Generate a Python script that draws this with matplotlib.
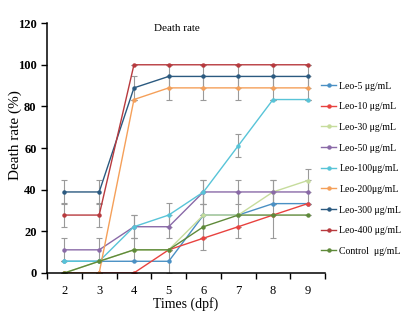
import matplotlib.pyplot as plt
import numpy as np

plt.rcParams['font.family'] = ['Liberation Serif', 'DejaVu Serif']

# days post fertilisation
days = [2, 3, 4, 5, 6, 7, 8, 9]

labels = ['Leo-5 μg/mL', 'Leo-10 μg/mL', 'Leo-30 μg/mL', 'Leo-50 μg/mL',
          'Leo-100μg/mL', 'Leo-200μg/mL', 'Leo-300 μg/mL', 'Leo-400 μg/mL',
          'Control  μg/mL']

leo5 = [5.6, 5.6, 5.6, 5.6, 27.8, 27.8, 33.3, 33.3]
leo10 = [0, 0, 0, 11.1, 16.7, 22.2, 27.8, 33.3]
leo30 = [0, 5.6, 11.1, 11.1, 27.8, 27.8, 38.9, 44.4]
leo50 = [11.1, 11.1, 22.2, 22.2, 38.9, 38.9, 38.9, 38.9]
leo100 = [5.6, 5.6, 22.2, 27.8, 38.9, 61.1, 83.3, 83.3]
leo200 = [0, 0, 83.3, 88.9, 88.9, 88.9, 88.9, 88.9]
leo300 = [38.9, 38.9, 88.9, 94.4, 94.4, 94.4, 94.4, 94.4]
leo400 = [27.8, 27.8, 100, 100, 100, 100, 100, 100]
control = [0, 5.6, 11.1, 11.1, 22.2, 27.8, 27.8, 27.8]

# error bars (sd)
err5 = [0, 0, 0, 5.6, 11.1, 0, 0, 0]
err10 = [0, 0, 0, 0, 0, 0, 0, 0]
err30 = [0, 0, 0, 0, 0, 0, 5.6, 5.6]
err50 = [5.6, 5.6, 5.6, 5.6, 5.6, 5.6, 5.6, 5.6]
err100 = [0, 0, 5.6, 5.6, 5.6, 5.6, 0, 0]
err200 = [0, 0, 0, 5.6, 5.6, 5.6, 5.6, 5.6]
err300 = [5.6, 5.6, 5.6, 5.6, 5.6, 5.6, 5.6, 5.6]
err400 = [5.6, 5.6, 0, 0, 0, 0, 0, 0]
errctl = [0, 0, 5.6, 0, 11.1, 11.1, 11.1, 0]

series = [leo5, leo10, leo30, leo50, leo100, leo200, leo300, leo400, control]
errors = [err5, err10, err30, err50, err100, err200, err300, err400, errctl]
colors = ['#4a90c4', '#e8423f', '#c6dc9c', '#8a6aa8', '#58c4d8',
          '#f5a05a', '#2b5a80', '#b83a3e', '#5f8a3a']

fig = plt.figure(figsize=(4.09, 3.17), dpi=100)
ax = fig.add_axes([0.115, 0.139, 0.68, 0.788])

# gray error bars first
for y, e in zip(series, errors):
    ax.errorbar(days, y, yerr=e, fmt='none', ecolor='#9a9a9a',
                elinewidth=0.8, capsize=2, capthick=0.8, zorder=1)

for y, lab, c in zip(series, labels, colors):
    ax.plot(days, y, color=c, lw=1.0, marker='o', markersize=2.2,
            label=lab, zorder=2)

ax.set_xlim(1.5, 9.5)
ax.set_ylim(0, 120)
ax.set_yticks([0, 20, 40, 60, 80, 100, 120])
ax.set_xticks(days)
ax.set_xticks(np.arange(1.5, 10, 1), minor=True)
ax.tick_params(axis='x', which='major', length=0, labelsize=9, pad=9)
ax.tick_params(axis='x', which='minor', length=4, direction='out', width=1)
ax.tick_params(axis='y', length=4, direction='out', width=1, labelsize=9)
for t in ax.get_yticklabels():
    t.set_fontweight('bold')

ax.spines['top'].set_visible(False)
ax.spines['right'].set_visible(False)
ax.spines['left'].set_linewidth(1.1)
ax.spines['bottom'].set_linewidth(1.1)

ax.set_xlabel('Times (dpf)', fontsize=10, labelpad=0)
ax.set_ylabel('Death rate (%)', fontsize=11)
ax.yaxis.set_label_coords(-0.09, 0.55)
fig.text(0.433, 0.91, 'Death rate', fontsize=8, ha='center', va='center')

fig.legend(loc='upper left', bbox_to_anchor=(0.775, 0.755), frameon=False,
           fontsize=7, handlelength=1.6, handletextpad=0.3,
           labelspacing=1.2, borderaxespad=0)

plt.savefig('out.png', dpi=100)
